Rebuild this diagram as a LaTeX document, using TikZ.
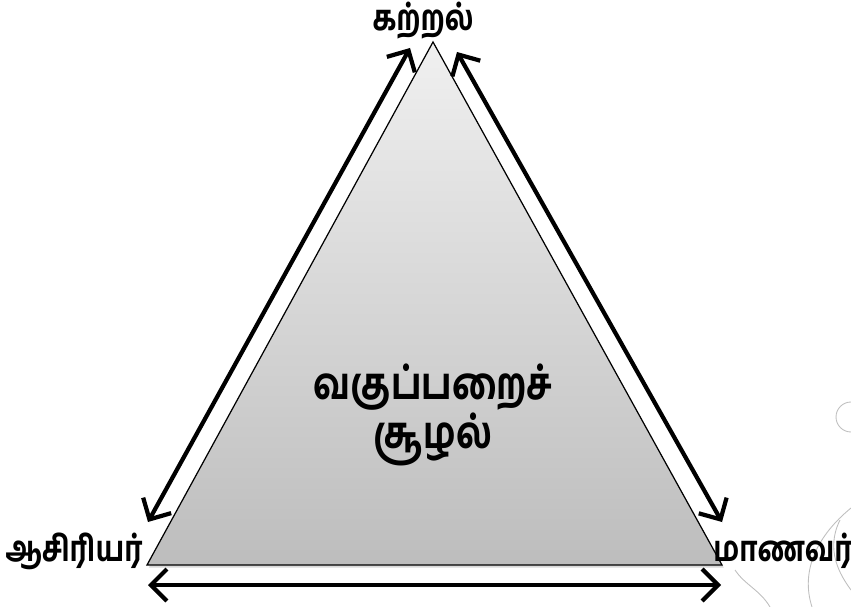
\documentclass[tikz,border=0pt]{standalone}
\usepackage{fontspec}
\newfontfamily\tamil[Script=Tamil]{Hind Madurai Bold}
\usetikzlibrary{arrows.meta, shadows}
\definecolor{c1}{HTML}{000000}
\definecolor{shadetop}{HTML}{F0F0F0}
\definecolor{shadebot}{HTML}{BDBDBD}
\definecolor{swirl}{HTML}{BFBFBF}

\begin{document}
\begin{tikzpicture}[
    x=0.02cm, y=-0.02cm,
    every node/.style={font=\tamil\fontsize{16}{19}\selectfont, text=c1,
        yscale=1.25, transform shape},
    mid/.style={font=\tamil\fontsize{20}{22}\selectfont, align=center},
    link/.style={c1, line width=2.4pt,
        {Straight Barb[length=3.2mm, width=6.4mm]}-{Straight Barb[length=3.2mm, width=6.4mm]},
        drop shadow={shadow xshift=0.6pt, shadow yshift=-0.8pt, opacity=0.35}},
]
\useasboundingbox (0,0) rectangle (851,607);

% ---------------------------------------------------------------- swirls
\draw[swirl, line width=0.5pt] (851,432) arc[start angle=90, end angle=270, radius=15];
\draw[swirl, line width=0.5pt] (851,508) .. controls (818,535) and (800,570) .. (812,607);
\draw[swirl, line width=0.5pt] (840,520) .. controls (825,550) and (840,575) .. (851,590);
\draw[swirl, line width=0.5pt] (770,607) .. controls (760,590) and (745,585) .. (735,570);

% ---------------------------------------------------------------- triangle
\coordinate (apex) at (433,42);
\coordinate (bl) at (147,565);
\coordinate (br) at (722,565);
\shade[top color=shadetop, bottom color=shadebot,
    drop shadow={shadow xshift=1pt, shadow yshift=-1.5pt, opacity=0.3}]
    (apex) -- (bl) -- (br) -- cycle;
\draw[c1, line width=0.7pt] (apex) -- (bl) -- (br) -- cycle;

% ---------------------------------------------------------------- labels
\node (learn) at (423,21) {கற்றல்};
\node (teacher) at (74,551) {ஆசிரியர்};
\node (student) at (783,551) {மாணவர்};
\node[mid] (room) at (433,415) {வகுப்பறைச்\\சூழல்};

% ---------------------------------------------------------------- arrows
\coordinate (lt) at (148,522);
\coordinate (ltop) at (410,48);
\coordinate (rtop) at (457,52);
\coordinate (rt) at (722,522);
\coordinate (bleft) at (148,585);
\coordinate (bright) at (721,585);
\draw[link] (lt) -- (ltop);
\draw[link] (rtop) -- (rt);
\draw[link] (bleft) -- (bright);

\end{tikzpicture}
\end{document}
